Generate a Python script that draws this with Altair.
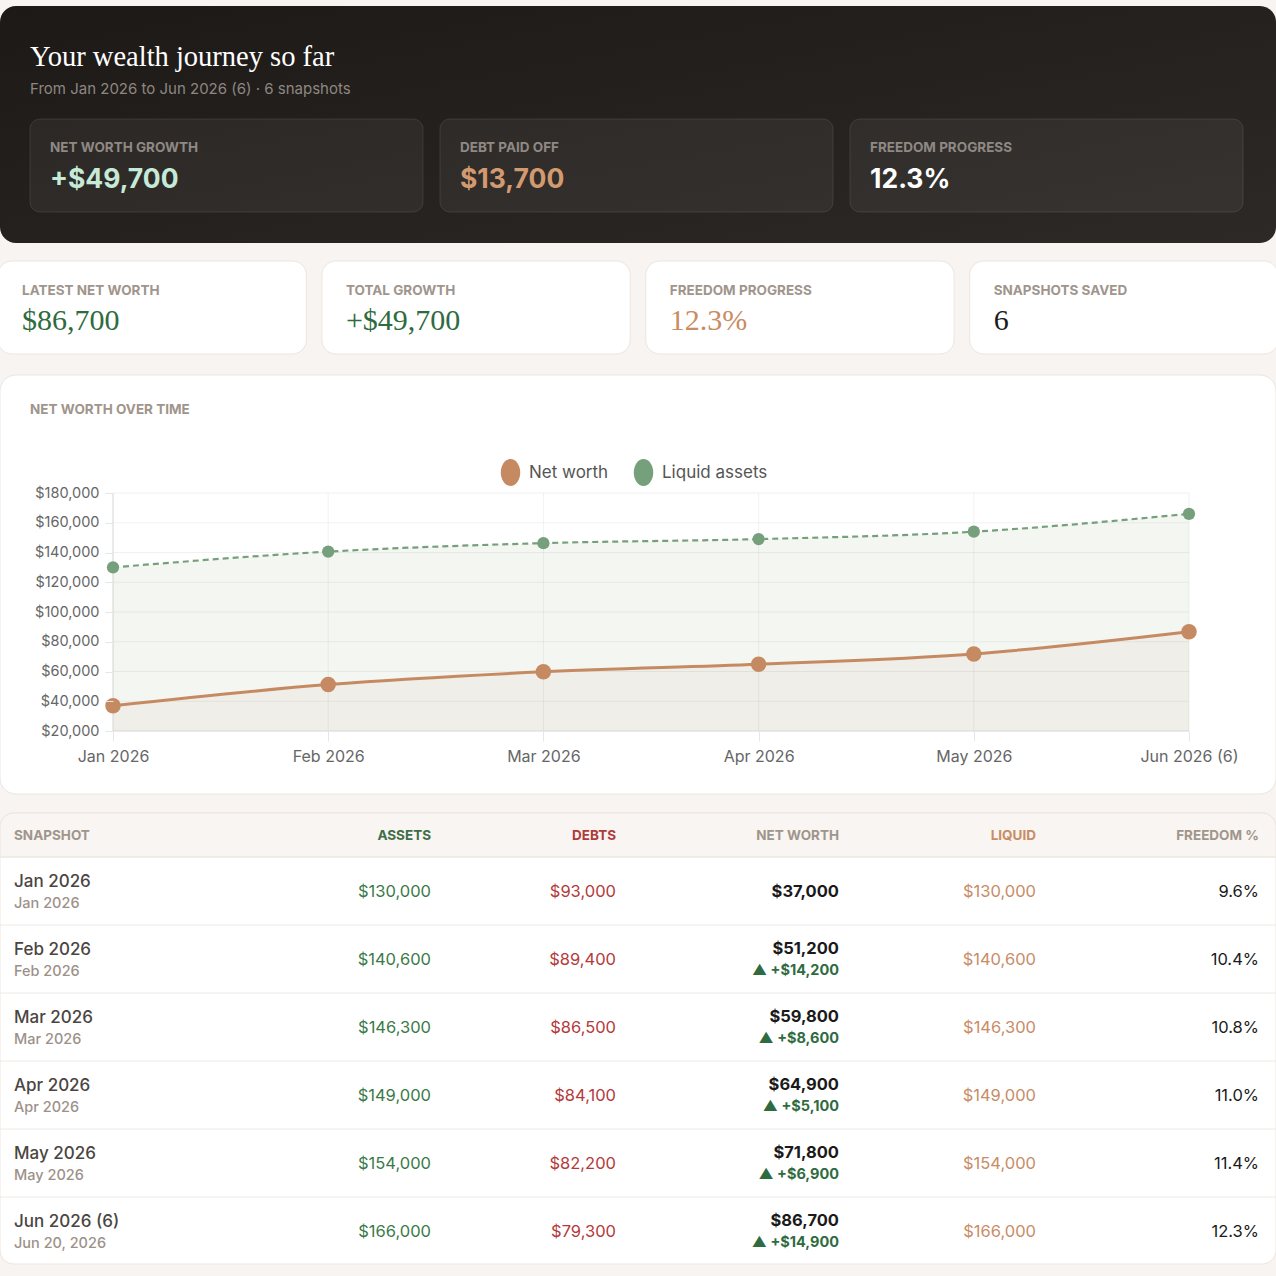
import altair as alt
import pandas as pd

# ---------------- data ----------------
months = ["Jan 2026", "Feb 2026", "Mar 2026", "Apr 2026", "May 2026", "Jun 2026 (6)"]
snapshot_dates = ["Jan 2026", "Feb 2026", "Mar 2026", "Apr 2026", "May 2026", "Jun 20, 2026"]
assets = [130000, 140600, 146300, 149000, 154000, 166000]
debts = [93000, 89400, 86500, 84100, 82200, 79300]
net_worth = [37000, 51200, 59800, 64900, 71800, 86700]
liquid = [130000, 140600, 146300, 149000, 154000, 166000]
freedom_pct = [9.6, 10.4, 10.8, 11.0, 11.4, 12.3]
y_ticks = [20000, 40000, 60000, 80000, 100000, 120000, 140000, 160000, 180000]
series_names = ["Net worth", "Liquid assets"]

hero_labels = ["NET WORTH GROWTH", "DEBT PAID OFF", "FREEDOM PROGRESS"]
kpi_labels = ["LATEST NET WORTH", "TOTAL GROWTH", "FREEDOM PROGRESS", "SNAPSHOTS SAVED"]
table_columns = ["SNAPSHOT", "ASSETS", "DEBTS", "NET WORTH", "LIQUID", "FREEDOM %"]

growth = net_worth[-1] - net_worth[0]
debt_paid = debts[0] - debts[-1]
hero_values = [f"+${growth:,}", f"${debt_paid:,}", f"{freedom_pct[-1]:.1f}%"]
kpi_values = [f"${net_worth[-1]:,}", f"+${growth:,}", f"{freedom_pct[-1]:.1f}%", str(len(months))]
title_text = "Your wealth journey so far"
subtitle_text = f"From {months[0]} to {months[-1]} \u00b7 {len(months)} snapshots"

# ---------------- styles ----------------
SANS = "Inter"
SERIF = "Liberation Serif"
BROWN = "#c68a62"
GREEN = "#76a07c"
MUTED = "#a0958c"
W = 1276

one = pd.DataFrame({"k": [0]})


def rect(x, x2, y, y2, **kw):
    return alt.Chart(one).mark_rect(**kw).encode(
        x=alt.value(x), x2=alt.value(x2), y=alt.value(y), y2=alt.value(y2))


def txt(s, x, y, **kw):
    kw.setdefault("font", SANS)
    kw.setdefault("align", "left")
    kw.setdefault("baseline", "alphabetic")
    return alt.Chart(one).mark_text(text=s, **kw).encode(x=alt.value(x), y=alt.value(y))


# ---------------- header ----------------
header_bg = rect(0, W, 6, 243, cornerRadius=16, fill=alt.LinearGradient(
    gradient="linear",
    stops=[alt.GradientStop(color="#1c1917", offset=0), alt.GradientStop(color="#2d2926", offset=1)],
    x1=0, x2=1, y1=0, y2=1))
header_title = txt(title_text, 30, 66, font=SERIF, fontSize=28.5, color="#ffffff")
header_sub = txt(subtitle_text, 30, 94, fontSize=15, color="#8e8781")

hero_df = pd.DataFrame({"label": hero_labels, "value": hero_values})
hero_x = alt.Scale(type="band", domain=hero_labels, range=[30, 1243], paddingInner=0.0415, paddingOuter=0)
hero_boxes = alt.Chart(hero_df).mark_rect(
    cornerRadius=10, fill="#ffffff", fillOpacity=0.05, stroke="#ffffff", strokeOpacity=0.1, strokeWidth=1
).encode(x=alt.X("label:N", scale=hero_x, axis=None), y=alt.value(119), y2=alt.value(212))
hero_lab = alt.Chart(hero_df).mark_text(
    align="left", baseline="alphabetic", dx=20, font=SANS, fontSize=13.5, fontWeight="bold", color="#8f8984"
).encode(x=alt.X("label:N", scale=hero_x, axis=None, bandPosition=0), y=alt.value(152), text="label:N")
hero_val = alt.Chart(hero_df).mark_text(
    align="left", baseline="alphabetic", dx=20, font=SANS, fontSize=26.5, fontWeight="bold"
).encode(
    x=alt.X("label:N", scale=hero_x, axis=None, bandPosition=0), y=alt.value(188), text="value:N",
    color=alt.Color("label:N", scale=alt.Scale(domain=hero_labels, range=["#c6ead7", "#d39a70", "#ffffff"]), legend=None))
hero = alt.layer(hero_boxes, hero_lab, hero_val)

# ---------------- KPI cards ----------------
kpi_df = pd.DataFrame({"label": kpi_labels, "value": kpi_values})
kpi_x = alt.Scale(type="band", domain=kpi_labels, range=[-2, 1278], paddingInner=0.048, paddingOuter=0)
kpi_boxes = alt.Chart(kpi_df).mark_rect(
    cornerRadius=14, fill="#ffffff", stroke="#ece5df", strokeWidth=1
).encode(x=alt.X("label:N", scale=kpi_x, axis=None), y=alt.value(261), y2=alt.value(354))
kpi_lab = alt.Chart(kpi_df).mark_text(
    align="left", baseline="alphabetic", dx=24, font=SANS, fontSize=13.5, fontWeight="bold", color=MUTED
).encode(x=alt.X("label:N", scale=kpi_x, axis=None, bandPosition=0), y=alt.value(295), text="label:N")
kpi_val = alt.Chart(kpi_df).mark_text(
    align="left", baseline="alphabetic", dx=24, font=SERIF, fontSize=30
).encode(
    x=alt.X("label:N", scale=kpi_x, axis=None, bandPosition=0), y=alt.value(330), text="value:N",
    color=alt.Color("label:N", scale=alt.Scale(domain=kpi_labels, range=["#2f6b40", "#2f6b40", "#c98c63", "#1b1b1b"]), legend=None))
kpi = alt.layer(kpi_boxes, kpi_lab, kpi_val)

# ---------------- line chart ----------------
chart_card = rect(0, W, 375, 794, cornerRadius=16, fill="#ffffff", stroke="#ece5df", strokeWidth=1)
chart_title = txt("NET WORTH OVER TIME", 30, 414, fontSize=13.5, fontWeight="bold", color=MUTED)

cdf = pd.DataFrame({"month": months, "nw": net_worth, "liq": liquid})
tick_df = pd.DataFrame({"v": y_ticks})

x_scale = alt.Scale(type="point", domain=months, range=[113, 1189], padding=0)
y_scale = alt.Scale(domain=[20000, 180000], range=[731, 493], nice=False, zero=False)
x_axis = alt.Axis(orient="bottom", offset=-545, grid=False, domain=False, labelAngle=0, labelFont=SANS,
                  labelFontSize=16, labelColor="#666666", tickColor="#e6e6e6", tickSize=10, labelPadding=7,
                  title=None, zindex=2)
y_axis = alt.Axis(orient="left", offset=-113, values=y_ticks, format="$,.0f", grid=False, domain=False,
                  labelFont=SANS, labelFontSize=14.5, labelColor="#666666", tickColor="#e6e6e6", tickSize=8,
                  labelPadding=6, title=None, zindex=2)


def X(field="month"):
    return alt.X(f"{field}:O", scale=x_scale, axis=x_axis, sort=months)


def Y(field):
    return alt.Y(f"{field}:Q", scale=y_scale, axis=y_axis)


liq_area = alt.Chart(cdf).mark_area(interpolate="monotone", color="#f4f6f2").encode(
    x=X(), y=Y("liq"), y2=alt.datum(20000))
nw_area = alt.Chart(cdf).mark_area(interpolate="monotone", color="#f0eee9").encode(
    x=X(), y=Y("nw"), y2=alt.datum(20000))
h_grid = alt.Chart(tick_df).mark_rule(color="#000000", opacity=0.055, strokeWidth=1).encode(
    y=Y("v"), x=alt.value(113), x2=alt.value(1189))
v_grid = alt.Chart(cdf).mark_rule(color="#000000", opacity=0.055, strokeWidth=1).encode(
    x=X(), y=alt.value(493), y2=alt.value(731))
# axis lines (drawn under the data marks)
x_base = alt.Chart(tick_df).transform_filter(f"datum.v == {y_ticks[0]}").mark_rule(
    color="#dcdcdc", strokeWidth=1).encode(y=Y("v"), x=alt.value(113), x2=alt.value(1189))
y_base = alt.Chart(cdf).transform_filter(f"datum.month == '{months[0]}'").mark_rule(
    color="#dcdcdc", strokeWidth=1).encode(x=X(), y=alt.value(493), y2=alt.value(731))
liq_line = alt.Chart(cdf).mark_line(interpolate="monotone", color=GREEN, strokeWidth=2.2,
                                    strokeDash=[6, 4]).encode(x=X(), y=Y("liq"))
nw_line = alt.Chart(cdf).mark_line(interpolate="monotone", color=BROWN, strokeWidth=3).encode(
    x=X(), y=Y("nw"))
ellipse = "M0,-1A0.72,1,0,1,1,0,1A0.72,1,0,1,1,0,-1Z"
color_scale = alt.Scale(domain=series_names, range=[BROWN, GREEN])
legend = alt.Legend(orient="none", legendX=497, legendY=459, direction="horizontal",
                    title=None, symbolType=ellipse, symbolSize=729, symbolStrokeWidth=0,
                    symbolOpacity=1, labelFont=SANS, labelFontSize=17, labelColor="#555555",
                    labelOffset=5, columnPadding=21)
liq_pts = alt.Chart(cdf).transform_calculate(series=f"'{series_names[1]}'").mark_circle(
    size=150, opacity=1).encode(x=X(), y=Y("liq"), color=alt.Color("series:N", scale=color_scale, legend=legend))
nw_pts = alt.Chart(cdf).transform_calculate(series=f"'{series_names[0]}'").mark_circle(
    size=240, opacity=1).encode(x=X(), y=Y("nw"), color=alt.Color("series:N", scale=color_scale, legend=legend))
line_chart = alt.layer(liq_area, nw_area, h_grid, v_grid, x_base, y_base, liq_line, nw_line, liq_pts, nw_pts)

# ---------------- table ----------------
deltas = [None] + [f"\u25b2 +${net_worth[i] - net_worth[i - 1]:,}" for i in range(1, len(net_worth))]
tdf = pd.DataFrame({
    "row": list(range(len(months))),
    "name": months,
    "date": snapshot_dates,
    "assets": assets,
    "debts": debts,
    "nw": net_worth,
    "delta": deltas,
    "liquid": liquid,
    "freedom": [f"{v:.1f}%" for v in freedom_pct],
})
row_scale = alt.Scale(type="band", domain=list(range(len(months))), range=[857, 1265],
                      paddingInner=0, paddingOuter=0)


def R(pos=0.5):
    return alt.Y("row:O", scale=row_scale, axis=None, bandPosition=pos)


table_card = rect(0, W, 813, 1264, cornerRadius=14, fill="#ffffff", stroke="#ece5df", strokeWidth=1)
table_head = rect(0, W, 813, 857, cornerRadiusTopLeft=14, cornerRadiusTopRight=14, fill="#f8f5f2",
                  stroke="#ece5df", strokeWidth=1)
head_line = alt.Chart(one).mark_rule(color="#ede6e0").encode(x=alt.value(0), x2=alt.value(W), y=alt.value(857))
col_x = [14, 431, 616, 839, 1036, 1259]
col_colors = [MUTED, "#3d6e48", "#b03b3b", MUTED, "#c98c63", MUTED]
head_labels = [txt(c, x, 840, align=("left" if i == 0 else "right"), fontSize=13.5, fontWeight="bold", color=col)
               for i, (c, x, col) in enumerate(zip(table_columns, col_x, col_colors))]

seps = alt.Chart(tdf).transform_filter(f"datum.row < {len(months) - 1}").mark_rule(
    color="#efe8e3", strokeWidth=1).encode(y=R(1), x=alt.value(0), x2=alt.value(W))


def tcol(field, x, dy, align="right", fmt=None, flt=None, **kw):
    kw.setdefault("font", SANS)
    kw.setdefault("fontSize", 16.5)
    base = alt.Chart(tdf)
    if flt:
        base = base.transform_filter(flt)
    t = alt.Text(f"{field}:Q", format=fmt) if fmt else alt.Text(f"{field}:N")
    return base.mark_text(align=align, baseline="alphabetic", dy=dy, **kw).encode(
        x=alt.value(x), y=R(), text=t)


t_name = tcol("name", 14, -4, align="left", fontSize=17, fontWeight=500, color="#4b4542")
t_date = tcol("date", 14, 17, align="left", fontSize=14.5, fontWeight=500, color="#9c9189")
t_assets = tcol("assets", 431, 6, fmt="$,.0f", color="#3b7a48")
t_debts = tcol("debts", 616, 6, fmt="$,.0f", color="#b5393a")
t_nw0 = tcol("nw", 839, 6, fmt="$,.0f", flt="!isValid(datum.delta)", fontWeight="bold", color="#1a1a1a")
t_nw = tcol("nw", 839, -5, fmt="$,.0f", flt="isValid(datum.delta)", fontWeight="bold", color="#1a1a1a")
t_delta = tcol("delta", 839, 16, flt="isValid(datum.delta)", fontSize=14.5, fontWeight="bold", color="#2f6b40")
t_liquid = tcol("liquid", 1036, 6, fmt="$,.0f", color="#c98c66")
t_free = tcol("freedom", 1259, 6, color="#1a1a1a")
table = alt.layer(seps, t_name, t_date, t_assets, t_debts, t_nw0, t_nw, t_delta, t_liquid, t_free)

# ---------------- assemble ----------------
chart = alt.layer(
    header_bg, header_title, header_sub, hero,
    kpi,
    chart_card, chart_title, line_chart,
    table_card, table_head, head_line, *head_labels, table,
).resolve_scale(
    x="independent", y="independent", color="independent"
).properties(
    width=W, height=W, padding=0, autosize=alt.AutoSizeParams(type="none"), background="#f7f4f1"
).configure_view(stroke=None)

chart.save("out.html", embed_options={"renderer": "svg", "actions": False})
